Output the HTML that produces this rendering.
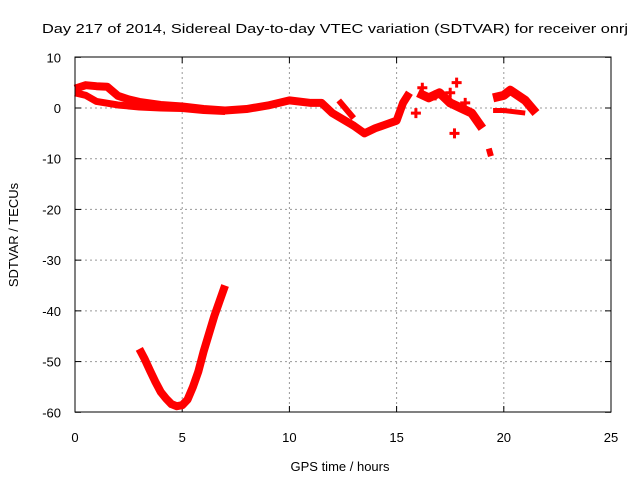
<!DOCTYPE html>
<html><head><meta charset="utf-8"><style>
body{margin:0;background:#fff;}
svg text{font-family:"Liberation Sans",sans-serif;font-size:13px;fill:#000;}
</style></head><body>
<svg id="chart" width="640" height="480" xmlns="http://www.w3.org/2000/svg">
<rect width="640" height="480" fill="#fff"/>
<text x="335" y="33" text-anchor="middle" textLength="586" lengthAdjust="spacingAndGlyphs">Day 217 of 2014, Sidereal Day-to-day VTEC variation (SDTVAR) for receiver onrj</text>
<g id="grid"></g>
<g id="axes"></g>
<g id="series"></g>
<rect x="75" y="57" width="536" height="355" fill="none" stroke="#000" stroke-width="1"/>
<text x="340" y="471" text-anchor="middle">GPS time / hours</text>
<text x="18" y="235" text-anchor="middle" transform="rotate(-90 18 235)">SDTVAR / TECUs</text>
</svg>
<script>
const xTicks=[0,5,10,15,20,25];
const yTicks=[10,0,-10,-20,-30,-40,-50,-60];
const upperH=[0,0.5,1,1.5,2,2.5,3,4,5,6,7,8,9,10,11,11.5,12,13,13.5,14,15,15.3,15.6];
const upperV=[3.8,4.5,4.3,4.2,2.4,1.7,1.2,0.6,0.3,-0.2,-0.5,-0.2,0.5,1.5,1,1,-1,-3.5,-5,-4,-2.5,1,3];
const lowerH=[0,0.5,1,2,3,4,5,6,7];
const lowerV=[3,2.5,1.3,0.6,0.2,0,-0.1,-0.5,-0.7];
const branchH=[12.3,13];
const branchV=[1.5,-2];
const lateH=[16,16.5,17,17.5,18,18.5,19];
const lateV=[3,2,3,1,0,-1,-4];
const dropH=[19.3,19.4];
const dropV=[-8,-9.5];
const eveH=[19.5,20,20.3,21,21.5];
const eveV=[2,2.5,3.5,1.5,-1];
const eveLowH=[19.5,20,21];
const eveLowV=[-0.5,-0.5,-1];
const spikeH=[17.5,17.8,16.2,15.9,17.7,16.8,18.2];
const spikeV=[3,5,4,-1,-5,2.5,1];
const vH=[3,3.25,3.5,3.75,4,4.25,4.5,4.75,5,5.25,5.5,5.75,6,6.25,6.5,6.75,7];
const vV=[-47.5,-49.5,-51.8,-54,-56,-57.3,-58.4,-58.8,-58.6,-57.5,-55,-52,-48,-44.5,-41,-38,-35];
const NS='http://www.w3.org/2000/svg';
const X=h=>75+h*536/25;
const Y=v=>108-v*355/70;
const grid=document.getElementById('grid'),axes=document.getElementById('axes'),ser=document.getElementById('series');
function mk(t,a,p){const e=document.createElementNS(NS,t);for(const k in a)e.setAttribute(k,a[k]);p.appendChild(e);return e;}
xTicks.forEach(t=>{
 if(t>0&&t<25){const l=mk('line',{x1:X(t),x2:X(t),y1:57,y2:412,stroke:'#999','stroke-dasharray':'2,3'},grid);
 
 }
 mk('line',{x1:X(t),x2:X(t),y1:412,y2:406,stroke:'#000'},axes);
 mk('line',{x1:X(t),x2:X(t),y1:57,y2:63,stroke:'#000'},axes);
 const tx=mk('text',{x:X(t),y:442,'text-anchor':'middle'},axes);tx.textContent=t;
 
 
});
yTicks.forEach(t=>{
 if(t<10&&t>-60){const l=mk('line',{x1:75,x2:611,y1:Y(t),y2:Y(t),stroke:'#999','stroke-dasharray':'2,3'},grid);
 
 }
 mk('line',{x1:75,x2:81,y1:Y(t),y2:Y(t),stroke:'#000'},axes);
 mk('line',{x1:611,x2:605,y1:Y(t),y2:Y(t),stroke:'#000'},axes);
 const tx=mk('text',{x:61,y:Y(t)+5,'text-anchor':'end'},axes);tx.textContent=t;
 
 
});
function line(hs,vs,name,w){
 const p=mk('polyline',{points:hs.map((h,i)=>X(h)+','+Y(vs[i])).join(' '),fill:'none',stroke:'#f00','stroke-width':w,'stroke-linejoin':'round','stroke-linecap':'butt'},ser);
 
 
}
line(upperH,upperV,'upper-track',8);
line(lowerH,lowerV,'lower-track',7);
line(branchH,branchV,'branch-track',6);
line(lateH,lateV,'late-track',9);
line(dropH,dropV,'drop-track',6);
line(eveH,eveV,'evening-track',9);
line(eveLowH,eveLowV,'evening-low-track',5);
line(vH,vV,'v-curve',8);
spikeH.forEach((h,i)=>{
 const g=mk('path',{d:`M${X(h)-5},${Y(spikeV[i])}h10M${X(h)},${Y(spikeV[i])-5}v10`,stroke:'#f00','stroke-width':3},ser);
 
 
});
</script>
</body></html>
